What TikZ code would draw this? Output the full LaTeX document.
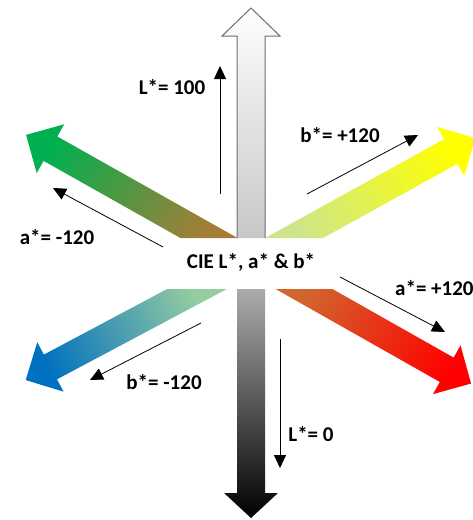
\documentclass[tikz,border=0pt]{standalone}
\usepackage{fontspec}
\setmainfont{Carlito}
\usetikzlibrary{arrows.meta}
\definecolor{gtip}{RGB}{0,176,80}
\definecolor{gbase}{RGB}{165,125,55}
\definecolor{ytip}{RGB}{255,255,0}
\definecolor{ybase}{RGB}{205,230,140}
\definecolor{rtip}{RGB}{255,0,0}
\definecolor{rbase}{RGB}{210,100,45}
\definecolor{btip}{RGB}{0,112,192}
\definecolor{bbase}{RGB}{150,205,160}
\definecolor{outl}{RGB}{110,110,110}
\newcommand\mkdiag[5]{% prefix, base point, canvas angle, length, cut y
  \begin{scope}[shift={(#2)},rotate=#3]
    \coordinate (#1s1) at (-40,-14);
    \coordinate (#1n1) at ({#4-28},-14);
    \coordinate (#1b1) at ({#4-28},-28);
    \coordinate (#1t)  at (#4,0);
    \coordinate (#1b2) at ({#4-28},28);
    \coordinate (#1n2) at ({#4-28},14);
    \coordinate (#1s2) at (-40,14);
  \end{scope}
  \coordinate (#1cl) at (-100,#5);
  \coordinate (#1cr) at (600,#5);
  \coordinate (#1c1) at (intersection of #1s1--#1n1 and #1cl--#1cr);
  \coordinate (#1c2) at (intersection of #1s2--#1n2 and #1cl--#1cr);
}
\tikzset{
  lab/.style={font=\fontsize{21}{24}\selectfont\bfseries, inner sep=0pt},
  smallarrow/.style={line width=0.8pt, -{Triangle[width=12pt,length=13pt]}},
}
\begin{document}
\begin{tikzpicture}[x=1pt,y=-1pt]
\useasboundingbox (0,0) rectangle (473,520);
% diagonal arrows
\mkdiag{g}{209,238}{150.6}{210}{238}
\mkdiag{y}{294,238}{28.9}{207}{238}
\mkdiag{r}{304,289}{-29.5}{192}{289}
\mkdiag{b}{197,289}{208}{194}{289}
\shade[bottom color=gbase, top color=gtip, shading angle=60.6]
  (gc1) -- (gn1) -- (gb1) -- (gt) -- (gb2) -- (gn2) -- (gc2) -- cycle;
\shade[bottom color=ybase, top color=ytip, shading angle=-61.1]
  (yc1) -- (yn1) -- (yb1) -- (yt) -- (yb2) -- (yn2) -- (yc2) -- cycle;
\shade[bottom color=rbase, top color=rtip, shading angle=-119.5]
  (rc1) -- (rn1) -- (rb1) -- (rt) -- (rb2) -- (rn2) -- (rc2) -- cycle;
\shade[bottom color=bbase, top color=btip, shading angle=118]
  (bc1) -- (bn1) -- (bb1) -- (bt) -- (bb2) -- (bn2) -- (bc2) -- cycle;
% vertical arrows
\coordinate (u1) at (237,238); \coordinate (u2) at (237,36); \coordinate (u3) at (222,36);
\coordinate (ut) at (251,8); \coordinate (u5) at (280,36); \coordinate (u6) at (265,36);
\coordinate (u7) at (265,238);
\shade[top color=white, bottom color=black!22] (u1) -- (u2) -- (u3) -- (ut) -- (u5) -- (u6) -- (u7) -- cycle;
\draw[outl, line width=1pt, line join=miter] (u1) -- (u2) -- (u3) -- (ut) -- (u5) -- (u6) -- (u7);
\coordinate (d1) at (237,289); \coordinate (d2) at (237,493); \coordinate (d3) at (224,493);
\coordinate (dt) at (251,518); \coordinate (d5) at (278,493); \coordinate (d6) at (265,493);
\coordinate (d7) at (265,289);
\shade[top color=black!33, bottom color=black] (d1) -- (d2) -- (d3) -- (dt) -- (d5) -- (d6) -- (d7) -- cycle;
% centre label
\node[lab] (cie) at (251,262) {CIE L*, a* \& b*};
% labels
\node[lab] (l100) at (172,87) {L*= 100};
\node[lab] (bp) at (340,135) {b*= +120};
\node[lab] (am) at (57,237) {a*= -120};
\node[lab, anchor=west] (ap) at (395,288) {a*= +120};
\node[lab] (bm) at (164,382) {b*= -120};
\node[lab] (l0) at (311,434) {L*= 0};
% small arrows
\coordinate (s1a) at (220,194); \coordinate (s1b) at (220,66);
\coordinate (s2a) at (307,194); \coordinate (s2b) at (418,135);
\coordinate (s3a) at (163,247); \coordinate (s3b) at (53,188);
\coordinate (s4a) at (340,277); \coordinate (s4b) at (445,332);
\coordinate (s5a) at (201,323); \coordinate (s5b) at (90,380);
\coordinate (s6a) at (280,339); \coordinate (s6b) at (280,468);
\draw[smallarrow] (s1a) -- (s1b);
\draw[smallarrow] (s2a) -- (s2b);
\draw[smallarrow] (s3a) -- (s3b);
\draw[smallarrow] (s4a) -- (s4b);
\draw[smallarrow] (s5a) -- (s5b);
\draw[smallarrow] (s6a) -- (s6b);
\end{tikzpicture}
\end{document}
